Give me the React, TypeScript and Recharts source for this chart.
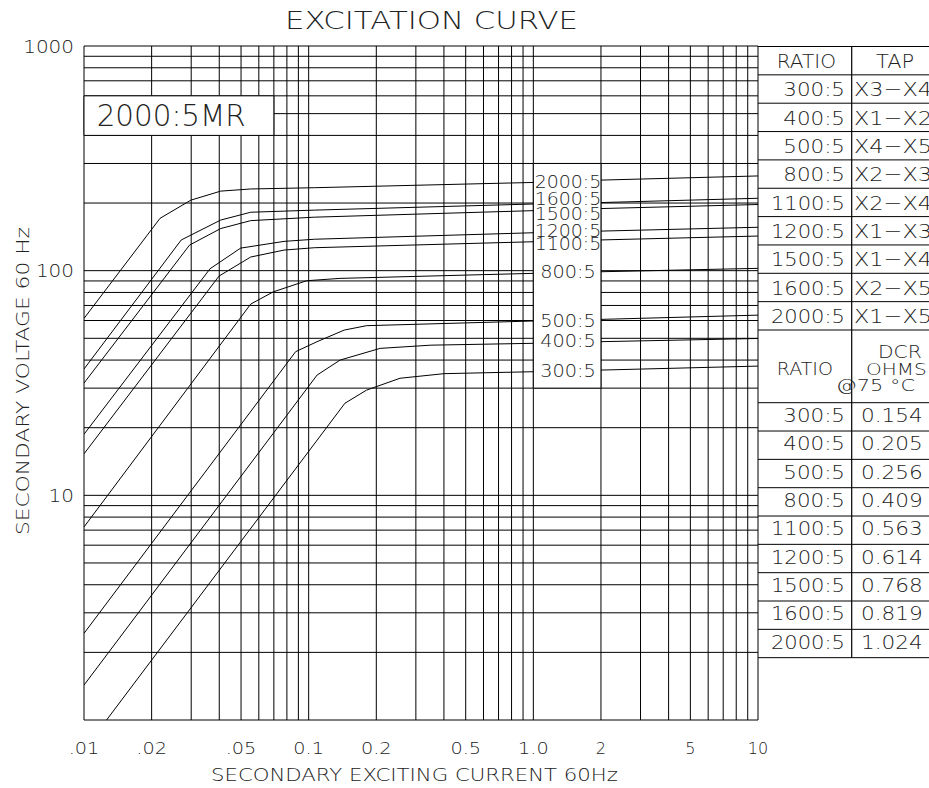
import React from "react";
import {
  ComposedChart,
  Line,
  Scatter,
  XAxis,
  YAxis,
  CartesianGrid,
  ReferenceArea,
} from "recharts";

const ratios = ["300:5", "400:5", "500:5", "800:5", "1100:5", "1200:5", "1500:5", "1600:5", "2000:5"];
const taps = ["X3−X4", "X1−X2", "X4−X5", "X2−X3", "X2−X4", "X1−X3", "X1−X4", "X2−X5", "X1−X5"];
const dcrOhms = ["0.154", "0.205", "0.256", "0.409", "0.563", "0.614", "0.768", "0.819", "1.024"];

// log grid: every 1..9 per decade
const xTicks = [
  0.01, 0.02, 0.03, 0.04, 0.05, 0.06, 0.07, 0.08, 0.09,
  0.1, 0.2, 0.3, 0.4, 0.5, 0.6, 0.7, 0.8, 0.9,
  1, 2, 3, 4, 5, 6, 7, 8, 9, 10,
];
const yTicks = [
  1, 2, 3, 4, 5, 6, 7, 8, 9,
  10, 20, 30, 40, 50, 60, 70, 80, 90,
  100, 200, 300, 400, 500, 600, 700, 800, 900, 1000,
];
const xLabelValues = [0.01, 0.02, 0.05, 0.1, 0.2, 0.5, 1, 2, 5, 10];
const xLabelTexts = [".01", ".02", ".05", "0.1", "0.2", "0.5", "1.0", "2", "5", "10"];
const yLabelValues = [10, 100, 1000];

// secondary exciting current (A) vs secondary voltage (V)
// the null point breaks each curve where the ratio labels sit (1A..2A)
const curve300 = [
  { x: 0.0126, y: 1 }, { x: 0.145, y: 25.7 }, { x: 0.181, y: 29.4 }, { x: 0.255, y: 33.2 },
  { x: 0.4, y: 34.8 }, { x: 1, y: 35.5 }, { x: 1.5, y: null }, { x: 2, y: 36.1 }, { x: 10, y: 37.6 },
];
const curve400 = [
  { x: 0.01, y: 1.43 }, { x: 0.109, y: 34.3 }, { x: 0.138, y: 40.0 }, { x: 0.208, y: 45.1 },
  { x: 0.35, y: 46.6 }, { x: 1, y: 47.5 }, { x: 1.5, y: null }, { x: 2, y: 48.3 }, { x: 10, y: 49.9 },
];
const curve500 = [
  { x: 0.01, y: 2.43 }, { x: 0.0875, y: 43.6 }, { x: 0.109, y: 48.3 }, { x: 0.144, y: 54.4 },
  { x: 0.181, y: 56.9 }, { x: 1, y: 59.7 }, { x: 1.5, y: null }, { x: 2, y: 60.7 }, { x: 10, y: 63.4 },
];
const curve800 = [
  { x: 0.01, y: 7.23 }, { x: 0.0552, y: 71 }, { x: 0.0696, y: 80.5 }, { x: 0.098, y: 90.2 },
  { x: 0.138, y: 92.4 }, { x: 1, y: 97.3 }, { x: 1.5, y: null }, { x: 2, y: 98.9 }, { x: 10, y: 102.4 },
];
const curve1100 = [
  { x: 0.01, y: 15.3 }, { x: 0.0399, y: 94.6 }, { x: 0.0552, y: 115 }, { x: 0.0777, y: 123.5 },
  { x: 0.106, y: 126.5 }, { x: 1, y: 134.5 }, { x: 1.5, y: null }, { x: 2, y: 137 }, { x: 10, y: 142.6 },
];
const curve1200 = [
  { x: 0.01, y: 18.7 }, { x: 0.0364, y: 102 }, { x: 0.0498, y: 126 }, { x: 0.0777, y: 135 },
  { x: 0.106, y: 138 }, { x: 1, y: 147.5 }, { x: 1.5, y: null }, { x: 2, y: 150 }, { x: 10, y: 156 },
];
const curve1500 = [
  { x: 0.01, y: 31.6 }, { x: 0.0295, y: 130 }, { x: 0.0406, y: 154 }, { x: 0.0552, y: 167 },
  { x: 0.106, y: 173 }, { x: 1, y: 185 }, { x: 1.5, y: null }, { x: 2, y: 189 }, { x: 10, y: 197 },
];
const curve1600 = [
  { x: 0.01, y: 36.5 }, { x: 0.0271, y: 137 }, { x: 0.0406, y: 168 }, { x: 0.0552, y: 182 },
  { x: 0.106, y: 186 }, { x: 1, y: 198 }, { x: 1.5, y: null }, { x: 2, y: 201 }, { x: 10, y: 210 },
];
const curve2000 = [
  { x: 0.01, y: 61.3 }, { x: 0.0218, y: 171 }, { x: 0.0299, y: 206 }, { x: 0.0406, y: 226 },
  { x: 0.0552, y: 231 }, { x: 0.106, y: 234 }, { x: 1, y: 247 }, { x: 1.5, y: null }, { x: 2, y: 253 }, { x: 10, y: 264 },
];
const curves = [curve300, curve400, curve500, curve800, curve1100, curve1200, curve1500, curve1600, curve2000];

// where the ratio names sit inside the blank column
const labelCurrent = 1.426;
const labelVolts = [35.7, 48.6, 59.7, 98.9, 131.3, 150.5, 178.6, 208.3, 248.7];
const labelPoints = ratios.map((r, i) => ({ x: labelCurrent, y: labelVolts[i], name: r }));

const FONT = "'DejaVu Sans', sans-serif";
const INK = "#222";
const WEIGHT = 200;

const XTick = (props: any) => {
  const { x, y, payload } = props;
  const i = xLabelValues.indexOf(payload.value);
  if (i < 0) return <g />;
  const t = xLabelTexts[i];
  return (
    <text x={x} y={y + 33.5} textAnchor="middle" fontSize={16} fontFamily={FONT} fontWeight={WEIGHT}
      fill={INK} textLength={t.length * 10.2} lengthAdjust="spacingAndGlyphs">
      {t}
    </text>
  );
};

const YTick = (props: any) => {
  const { x, y, payload } = props;
  if (!yLabelValues.includes(payload.value)) return <g />;
  const t = String(payload.value);
  return (
    <text x={x - 10} y={y + 6.5} textAnchor="end" fontSize={18} fontFamily={FONT} fontWeight={WEIGHT}
      fill={INK} textLength={t.length * 12.7} lengthAdjust="spacingAndGlyphs">
      {t}
    </text>
  );
};

const RatioLabel = (props: any) => {
  const { cx, cy, payload } = props;
  return (
    <text x={cx} y={cy + 6} textAnchor="middle" fontSize={17} fontFamily={FONT} fontWeight={WEIGHT}
      fill={INK} textLength={payload.name.length * 11.1} lengthAdjust="spacingAndGlyphs">
      {payload.name}
    </text>
  );
};

const BoxLabel = (props: any) => {
  const vb = props.viewBox || { x: 0, y: 0 };
  return (
    <text x={vb.x + 12.7} y={vb.y + 30} fontSize={30} fontFamily={FONT} fontWeight={WEIGHT} fill={INK}
      textLength={149} lengthAdjust="spacingAndGlyphs">
      2000:5MR
    </text>
  );
};

const T = (p: any) => (
  <text fontFamily={FONT} fontWeight={WEIGHT} fill={INK} lengthAdjust="spacingAndGlyphs" {...p} />
);

function Overlay() {
  const rowH = 28.35;
  const tapTop = 46.5;
  const dcrHead = tapTop + rowH * 10;
  const dcrTop = dcrHead + 72.7;
  const dcrRowH = 28.33;
  const right = 929;
  const colX = 851.7;
  const lines: any[] = [];
  for (let i = 0; i <= 10; i++) lines.push(tapTop + i * rowH);
  for (let i = 0; i <= 9; i++) lines.push(dcrTop + i * dcrRowH);
  return (
    <svg width={929} height={788} style={{ position: "absolute", left: 0, top: 0, pointerEvents: "none" }}>
      <T x={285} y={29.3} fontSize={25} textLength={293}>EXCITATION  CURVE</T>
      <T x={211} y={780.7} fontSize={18} textLength={407}>SECONDARY  EXCITING  CURRENT  60Hz</T>
      <T x={28.5} y={381} fontSize={18} textAnchor="middle" textLength={308}
        transform="rotate(-90 28.5 381)">SECONDARY  VOLTAGE  60  Hz</T>

      {lines.map((y, i) => (
        <line key={i} x1={758} x2={right} y1={y} y2={y} stroke="#000" strokeWidth={1} />
      ))}
      <line x1={colX} x2={colX} y1={tapTop} y2={dcrTop + 9 * dcrRowH} stroke="#000" strokeWidth={1.2} />

      <T x={776.7} y={68.3} fontSize={20} textLength={59.3}>RATIO</T>
      <T x={876} y={68.3} fontSize={20} textLength={38}>TAP</T>
      {ratios.map((r, i) => (
        <g key={r}>
          <T x={845} y={tapTop + (i + 1) * rowH + 21.3} fontSize={20} textAnchor="end" textLength={r.length * 12.35}>{r}</T>
          <T x={854} y={tapTop + (i + 1) * rowH + 21.3} fontSize={20} textLength={78}>{taps[i]}</T>
        </g>
      ))}

      <T x={878} y={357.7} fontSize={17} textLength={43.7}>DCR</T>
      <T x={776.7} y={375} fontSize={18} textLength={56.3}>RATIO</T>
      <T x={866} y={375} fontSize={16.5} textLength={60.7}>OHMS</T>
      <T x={836} y={391} fontSize={15} textLength={79}>@75 °C</T>
      {ratios.map((r, i) => (
        <g key={"d" + r}>
          <T x={845} y={dcrTop + i * dcrRowH + 19.3} fontSize={20} textAnchor="end" textLength={r.length * 12.35}>{r}</T>
          <T x={861} y={dcrTop + i * dcrRowH + 19.3} fontSize={20} textLength={61.7}>{dcrOhms[i]}</T>
        </g>
      ))}
    </svg>
  );
}

export default function App() {
  return (
    <div style={{ position: "absolute", left: 0, top: 0, width: 929, height: 788, background: "#fff" }}>
      <ComposedChart width={929} height={788} margin={{ top: 46, right: 171, bottom: 0, left: 0 }}>
        <CartesianGrid stroke="#000" strokeWidth={1} />
        <XAxis dataKey="x" type="number" scale="log" domain={[0.01, 10]} ticks={xTicks} interval={0}
          allowDataOverflow height={68} tickSize={0} tickMargin={0} axisLine={false} tickLine={false}
          tick={(p: any) => <XTick {...p} />} />
        <YAxis dataKey="y" type="number" scale="log" domain={[1, 1000]} ticks={yTicks} interval={0}
          allowDataOverflow width={84} tickSize={0} tickMargin={0} axisLine={false} tickLine={false}
          tick={(p: any) => <YTick {...p} />} />
        <ReferenceArea x1={0.01} x2={0.07} y1={400} y2={600} fill="#fff" fillOpacity={1}
          stroke="#000" strokeWidth={1} label={<BoxLabel />} />
        <ReferenceArea x1={1} x2={2} y1={30} y2={300} fill="#fff" fillOpacity={1}
          stroke="#000" strokeWidth={1} />
        {curves.map((c, i) => (
          <Line key={ratios[i]} data={c} dataKey="y" stroke="#000" strokeWidth={1} dot={false}
            activeDot={false} connectNulls={false} isAnimationActive={false} />
        ))}
        <Scatter data={labelPoints} dataKey="y" shape={<RatioLabel />} isAnimationActive={false} />
      </ComposedChart>
      <Overlay />
    </div>
  );
}
